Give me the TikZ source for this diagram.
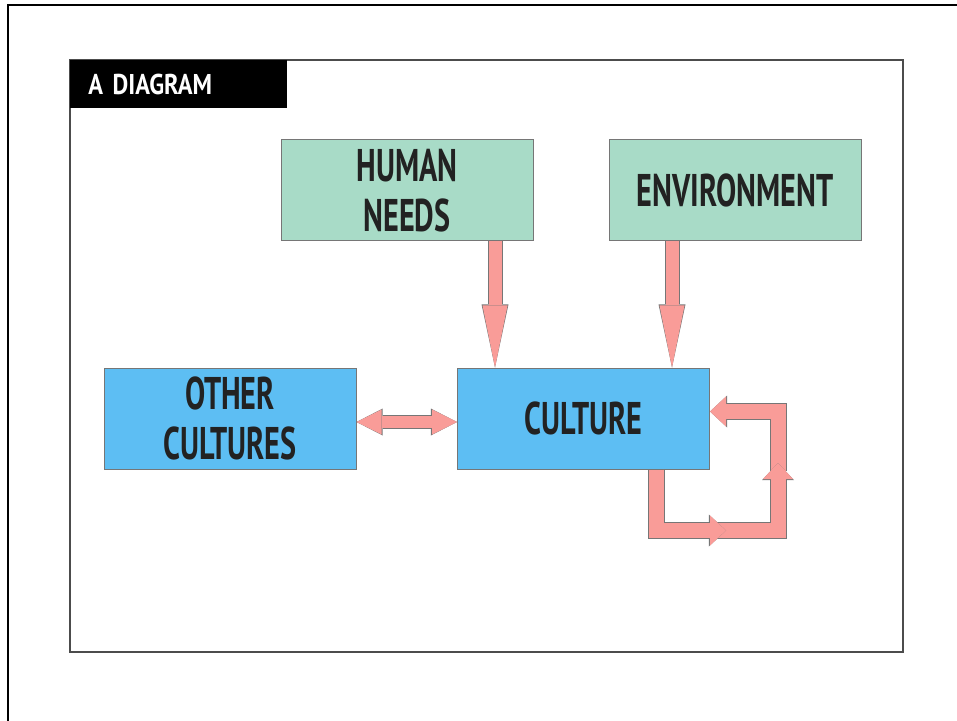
\documentclass[tikz,border=0pt]{standalone}
\usepackage{fontspec}
\setmainfont[FakeStretch=0.66]{PT Sans}
\newfontfamily\titlefont[FakeStretch=0.85]{PT Sans}
\usepackage{tikz}
\usetikzlibrary{arrows.meta,positioning,calc}
\usepackage{xcolor}
\definecolor{fmint}{HTML}{A8DBC7}
\definecolor{fsky}{HTML}{5DBEF3}
\definecolor{fpink}{HTML}{F99C98}
\definecolor{fedge}{HTML}{767676}
\definecolor{fink}{HTML}{222222}
\tikzset{
  box/.style     = {draw=fedge, line width=0.5pt, rectangle, minimum width=126pt,
                    minimum height=50.5pt, align=center, text=fink,
                    font=\fontsize{22.9pt}{25pt}\selectfont\bfseries},
  greenbox/.style = {box, fill=fmint},
  bluebox/.style  = {box, fill=fsky},
  downarr/.style = {draw=fpink, line width=6.5pt,
                    -{Triangle[length=31pt,width=12.5pt,line width=0pt]},
                    preaction={draw=fedge, line width=7.5pt,
                    -{Triangle[length=31.6pt,width=13.5pt,line width=0pt]}}},
  bootharr/.style = {draw=fpink, line width=6pt,
                    {Triangle[length=12.5pt,width=12.5pt,line width=0pt]}-{Triangle[length=12.5pt,width=12.5pt,line width=0pt]},
                    preaction={draw=fedge, line width=7pt,
                    {Triangle[length=13.1pt,width=13.5pt,line width=0pt]}-{Triangle[length=13.1pt,width=13.5pt,line width=0pt]}}},
  looparr/.style = {draw=fpink, line width=7.5pt, line join=miter,
                    -{Triangle[length=8pt,width=15pt,line width=0pt]},
                    preaction={draw=fedge, line width=8.5pt, line join=miter,
                    -{Triangle[length=8.6pt,width=16pt,line width=0pt]}}},
}
\begin{document}
\begin{tikzpicture}[x=0.5pt,y=-0.5pt]
\useasboundingbox (0,0) rectangle (957,721);
% outer sheet and panel
\draw[line width=1.25pt] (957,5) -- (8,5) -- (8,721);
\draw[line width=0.6pt,draw=black!70] (70,60) rectangle (903,652);
\node[anchor=north west, fill=black, text=white, minimum width=108.5pt,
      minimum height=24pt, text width=90.5pt, inner xsep=9pt, align=left,
      font=\titlefont\bfseries\fontsize{14.3pt}{16pt}\selectfont] (title) at (70,60) {A DIAGRAM};
% boxes
\node[greenbox] (needs)   at (407,190.5)   {HUMAN\\NEEDS};
\node[greenbox] (env)     at (735,190.5)   {ENVIRONMENT};
\node[bluebox]  (others)  at (230,418.5)   {OTHER\\CULTURES};
\node[bluebox]  (culture) at (583.5,418.5) {CULTURE};
% loop corners
\coordinate (loopa) at (726,530.5);
\coordinate (loopb) at (778,463);
% arrows
\draw[downarr] ([xshift=44pt]needs.south) -- ([xshift=-44.25pt]culture.north);
\draw[downarr] ([xshift=-31.5pt]env.south) -- ([xshift=44.25pt]culture.north);
\draw[bootharr] ([yshift=-1.75pt]others.east) -- ([yshift=-1.75pt]culture.west);
\draw[looparr] ([yshift=-4pt]loopb) |- ([yshift=3.5pt]culture.east);
\draw[looparr] ([xshift=-5pt]loopa) -| (loopb);
\draw[looparr] ([xshift=36.5pt]culture.south) |- (loopa);
\end{tikzpicture}
\end{document}
